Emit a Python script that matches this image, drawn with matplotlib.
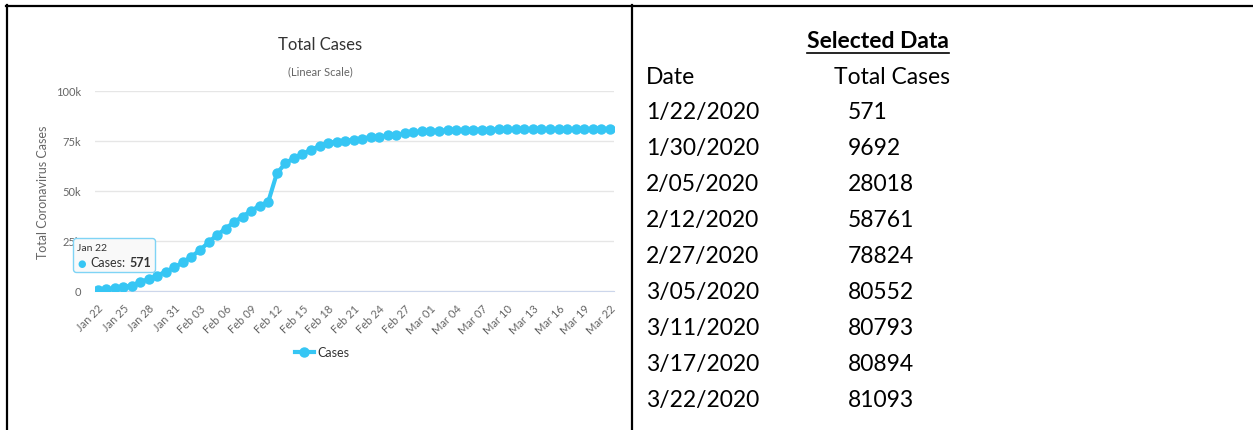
import pandas as pd
import matplotlib
matplotlib.use("Agg")
import matplotlib.pyplot as plt
from matplotlib.lines import Line2D
from matplotlib.offsetbox import TextArea, VPacker, HPacker, AnnotationBbox

plt.rcParams['font.family'] = ['Lato', 'DejaVu Sans']

# daily total cases, Jan 22 - Mar 22 2020
dates = pd.date_range("2020-01-22", "2020-03-22", freq="D")
cases = [571, 830, 1287, 1975, 2744, 4515, 5974, 7711, 9692, 11791,
         14380, 17205, 20438, 24324, 28018, 31161, 34546, 37198, 40171, 42638,
         44653, 58761, 63851, 66492, 68500, 70548, 72436, 74185, 74576, 75077,
         75550, 76200, 77022, 77241, 77754, 78166, 78824, 79251, 79824, 80026,
         80151, 80270, 80409, 80552, 80651, 80695, 80735, 80754, 80778, 80793,
         80813, 80824, 80844, 80860, 80881, 80894, 80928, 80967, 81008, 81054,
         81093]
yticks = [0, 25000, 50000, 75000, 100000]
ytick_labels = ["0", "25k", "50k", "75k", "100k"]

# selected data table on the right
table_dates = ["1/22/2020", "1/30/2020", "2/05/2020", "2/12/2020", "2/27/2020",
               "3/05/2020", "3/11/2020", "3/17/2020", "3/22/2020"]
table_cases = ["571", "9692", "28018", "58761", "78824", "80552", "80793", "80894", "81093"]

W, H = 1253, 431
blue = "#36c6f4"
fig = plt.figure(figsize=(W / 100, H / 100), dpi=100)

def fx(px):
    return px / W

def fy(py):
    return 1 - py / H

# table borders
for seg in [((6, W), (6.5, 6.5)), ((7, 7), (6, H)), ((632, 632), (6, H))]:
    fig.add_artist(Line2D([fx(v) for v in seg[0]], [fy(v) for v in seg[1]],
                          color="black", lw=1.6, transform=fig.transFigure))

# chart
ax = fig.add_axes([fx(95), fy(292), fx(614) - fx(95), fy(92) - fy(292)])
x = list(range(len(cases)))
ax.plot(x, cases, color=blue, lw=3, marker="o", ms=6.5, label="Cases", zorder=3)
ax.set_xlim(-0.3, len(cases) - 0.5)
ax.set_ylim(0, 100000)
ax.set_yticks(yticks)
ax.set_yticklabels(ytick_labels)
ax.set_xticks(x[::3])
ax.set_xticklabels([d.strftime("%b %d") for d in dates[::3]], rotation=45,
                   ha="right", rotation_mode="anchor")
ax.tick_params(axis="both", length=0, labelsize=8, labelcolor="#666666")
ax.tick_params(axis="x", pad=8)
ax.tick_params(axis="y", pad=10)
ax.grid(axis="y", color="#e6e6e6", lw=1)
for s in ["top", "right", "left"]:
    ax.spines[s].set_visible(False)
ax.spines["bottom"].set_color("#ccd6eb")
ax.set_axisbelow(True)
ax.set_ylabel("Total Coronavirus Cases", fontsize=9, color="#666666", labelpad=5)

fig.text(fx(320), fy(45), "Total Cases", ha="center", va="center", fontsize=12, color="#333333")
fig.text(fx(320), fy(72), "(Linear Scale)", ha="center", va="center", fontsize=8, color="#666666")

leg = fig.legend(loc="center", bbox_to_anchor=(fx(322), fy(353)), frameon=False,
                 fontsize=9, handlelength=1.5, handletextpad=0.3)
for t in leg.get_texts():
    t.set_color("#333333")

# tooltip for the first point
line1 = TextArea("Jan 22", textprops=dict(fontsize=7.5, color="#333333"))
line2 = HPacker(children=[TextArea("\u25CF", textprops=dict(fontsize=7, color=blue, family="DejaVu Sans")),
                          TextArea("Cases:", textprops=dict(fontsize=9, color="#333333")),
                          TextArea(f"{cases[0]}", textprops=dict(fontsize=9, color="#333333", fontweight="bold"))],
                align="baseline", pad=0, sep=3)
box = VPacker(children=[line1, line2], align="left", pad=0, sep=3)
ab = AnnotationBbox(box, (0, cases[0]), xybox=(12, 25), boxcoords="offset points",
                    frameon=True, pad=0.5,
                    bboxprops=dict(boxstyle="round,pad=0.3,rounding_size=0.2", fc="#f9f9f9",
                                   ec="#7fd4f5", lw=1),
                    arrowprops=dict(arrowstyle="-", color="#7fd4f5", lw=0))
ax.add_artist(ab)

# right side table
rs = 16.5
title = fig.text(fx(878), fy(42), "Selected Data", ha="center", va="center",
                 fontsize=rs, fontweight="bold", color="black")
fig.text(fx(646), fy(77), "Date", ha="left", va="center", fontsize=rs)
fig.text(fx(834), fy(77), "Total Cases", ha="left", va="center", fontsize=rs)
row0, step = 113, 35.9
for i, (d, c) in enumerate(zip(table_dates, table_cases)):
    fig.text(fx(646), fy(row0 + i * step), d, ha="left", va="center", fontsize=rs)
    fig.text(fx(848), fy(row0 + i * step), c, ha="left", va="center", fontsize=rs)

# underline the table title
fig.canvas.draw()
bb = title.get_window_extent().transformed(fig.transFigure.inverted())
fig.add_artist(Line2D([bb.x0, bb.x1], [bb.y0 - 0.004, bb.y0 - 0.004], color="black",
                      lw=1.2, transform=fig.transFigure))

fig.savefig("out.png", dpi=100)
